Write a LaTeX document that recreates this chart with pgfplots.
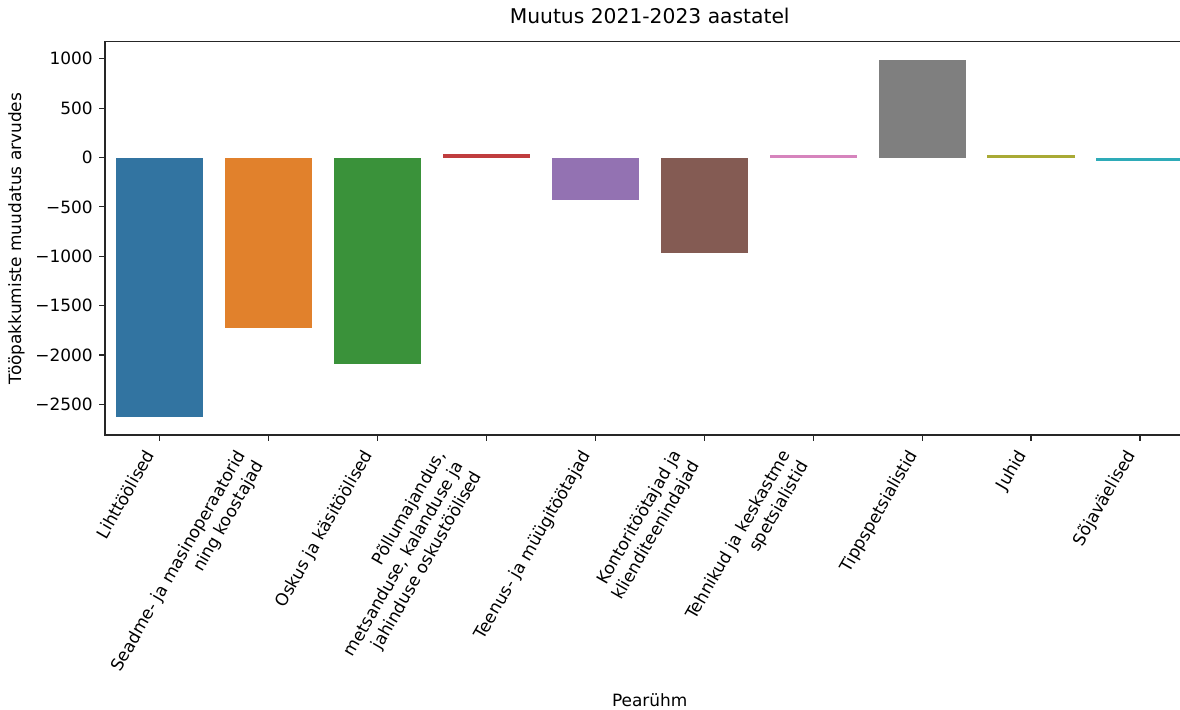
\documentclass[border=0pt]{standalone}
\usepackage{fontspec}
\setmainfont{DejaVu Sans}
\usepackage{graphicx}
\usepackage{pgfplots}
\pgfplotsset{compat=1.18}
\definecolor{c0}{HTML}{3274A1}
\definecolor{c1}{HTML}{E1812C}
\definecolor{c2}{HTML}{3A923A}
\definecolor{c3}{HTML}{C03D3E}
\definecolor{c4}{HTML}{9372B2}
\definecolor{c5}{HTML}{845B53}
\definecolor{c6}{HTML}{D684BD}
\definecolor{c7}{HTML}{7F7F7F}
\definecolor{c8}{HTML}{A9AA35}
\definecolor{c9}{HTML}{2EABB8}
\newcommand{\rl}[1]{\rotatebox{60}{\begin{tabular}{@{}r@{}}#1\end{tabular}}}
\begin{document}
\begin{tikzpicture}
\begin{axis}[name=ax, scale only axis, width=784.4pt, height=283pt,
  xmin=-0.5, xmax=9.5, ymin=-2811, ymax=1171,
  axis line style={line width=0.8pt, black!85},
  xtick={0,...,9},
  xticklabels={
    {\rl{Lihttöölised}},
    {\rl{Seadme- ja masinoperaatorid\\ning koostajad}},
    {\rl{Oskus ja käsitöölised}},
    {\rl{Põllumajandus,\\metsanduse, kalanduse ja\\jahinduse oskustöölised}},
    {\rl{Teenus- ja müügitöötajad}},
    {\rl{Kontoritöötajad ja\\klienditeenindajad}},
    {\rl{Tehnikud ja keskastme\\spetsialistid}},
    {\rl{Tippspetsialistid}},
    {\rl{Juhid}},
    {\rl{Sõjaväelised}}},
  ytick={-2500,-2000,-1500,-1000,-500,0,500,1000},
  yticklabels={−2500,−2000,−1500,−1000,−500,0,500,1000},
  tick align=outside, tick pos=left,
  major tick length=4.3pt,
  tick style={line width=0.8pt, black!85},
  xticklabel style={anchor=north east, inner sep=0pt, yshift=-4.6pt, xshift=1pt, font=\fontsize{12.2}{15}\selectfont},
  yticklabel style={anchor=east, inner sep=0pt, xshift=-4.3pt, font=\fontsize{12.2}{14.6}\selectfont},
  title={Muutus 2021-2023 aastatel},
  title style={at={(axis description cs:0.5,1)}, anchor=base, yshift=7pt, inner sep=0pt, font=\fontsize{14.6}{17.5}\selectfont},
  xlabel={Pearühm},
  xlabel style={at={(axis description cs:0.5,0)}, anchor=north, yshift=-186.2pt, inner sep=0pt, font=\fontsize{12.2}{14.6}\selectfont},
  ylabel={Tööpakkumiste muudatus arvudes},
  ylabel style={at={(axis description cs:-0.0734,0.5)}, anchor=south, inner sep=0pt, font=\fontsize{12.2}{14.6}\selectfont},
  clip=false,
]
\addplot[ybar, bar width=0.8, fill=c0, draw=none] coordinates {(0,-2630)};
\addplot[ybar, bar width=0.8, fill=c1, draw=none] coordinates {(1,-1730)};
\addplot[ybar, bar width=0.8, fill=c2, draw=none] coordinates {(2,-2095)};
\addplot[ybar, bar width=0.8, fill=c3, draw=none] coordinates {(3,40)};
\addplot[ybar, bar width=0.8, fill=c4, draw=none] coordinates {(4,-435)};
\addplot[ybar, bar width=0.8, fill=c5, draw=none] coordinates {(5,-972)};
\addplot[ybar, bar width=0.8, fill=c6, draw=none] coordinates {(6,28)};
\addplot[ybar, bar width=0.8, fill=c7, draw=none] coordinates {(7,990)};
\addplot[ybar, bar width=0.8, fill=c8, draw=none] coordinates {(8,28)};
\addplot[ybar, bar width=0.8, fill=c9, draw=none] coordinates {(9,-32)};
\end{axis}
\pgfresetboundingbox
\useasboundingbox ([xshift=-75.6pt,yshift=-197.3pt]ax.south west) rectangle ([xshift=-10.4pt,yshift=30.2pt]ax.north east);
\end{tikzpicture}
\end{document}
